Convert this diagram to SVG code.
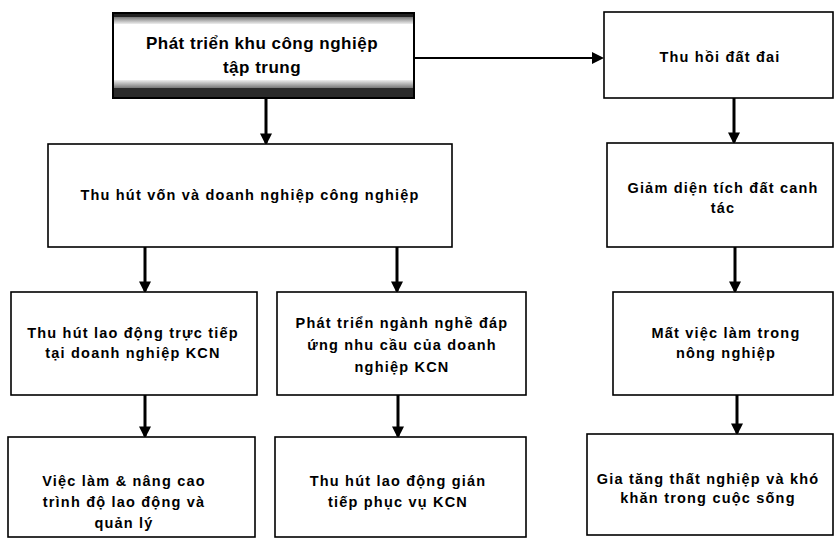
<svg xmlns="http://www.w3.org/2000/svg" width="835" height="539" viewBox="0 0 835 539">
<defs>
<marker id="ah" markerWidth="4" markerHeight="4" refX="3.2" refY="2" orient="auto" markerUnits="strokeWidth">
<path d="M0,0 L4,2 L0,4 Z" fill="#000"/>
</marker>
<marker id="ahs" markerWidth="6" markerHeight="6" refX="5" refY="3" orient="auto" markerUnits="strokeWidth">
<path d="M0,0 L6,3 L0,6 Z" fill="#000"/>
</marker>
<linearGradient id="gtop" x1="0" y1="0" x2="0" y2="1">
<stop offset="0" stop-color="#777"/>
<stop offset="1" stop-color="#eee"/>
</linearGradient>
<linearGradient id="gbot" x1="0" y1="0" x2="0" y2="1">
<stop offset="0" stop-color="#eee"/>
<stop offset="1" stop-color="#777"/>
</linearGradient>
</defs>
<style>
.box{fill:#fff;stroke:#000;stroke-width:1.6}
.t{font-family:"Liberation Sans",Arial,sans-serif;font-weight:bold;font-size:14.5px;letter-spacing:1.2px;text-anchor:middle;fill:#000}
.big{font-size:17px;letter-spacing:0.5px}
.c{stroke:#000;stroke-width:3;fill:none}
.ch{stroke:#000;stroke-width:2;fill:none}
</style>
<rect width="835" height="539" fill="#fff"/>
<g id="connectors">
<line class="ch" x1="414" y1="58" x2="602" y2="58" marker-end="url(#ahs)"/>
<line class="c" x1="266" y1="98" x2="266" y2="143" marker-end="url(#ah)"/>
<line class="c" x1="145" y1="247" x2="145" y2="291" marker-end="url(#ah)"/>
<line class="c" x1="397" y1="247" x2="397" y2="291" marker-end="url(#ah)"/>
<line class="c" x1="145" y1="395" x2="145" y2="436" marker-end="url(#ah)"/>
<line class="c" x1="398" y1="395" x2="398" y2="436" marker-end="url(#ah)"/>
<line class="c" x1="734" y1="98" x2="734" y2="142" marker-end="url(#ah)"/>
<line class="c" x1="735" y1="247" x2="735" y2="291" marker-end="url(#ah)"/>
<line class="c" x1="737" y1="395" x2="737" y2="433" marker-end="url(#ah)"/>
</g>
<g id="n1">
<rect x="113" y="13" width="301" height="85" fill="#fff" stroke="#000" stroke-width="2"/>
<rect x="114" y="14" width="299" height="3" fill="#222"/>
<rect x="114" y="17" width="299" height="7" fill="url(#gtop)"/>
<rect x="114" y="80" width="299" height="8" fill="url(#gbot)"/>
<rect x="114" y="88" width="299" height="9" fill="#2a2a2a"/>
<text class="t big" x="262" y="49">Phát triển khu công nghiệp</text>
<text class="t big" x="262" y="73">tập trung</text>
</g>
<g id="n2">
<rect class="box" x="604" y="12" width="229" height="86"/>
<text class="t" x="720" y="62">Thu hồi đất đai</text>
</g>
<g id="n3">
<rect class="box" x="48" y="144" width="404" height="103"/>
<text class="t" x="250" y="200">Thu hút vốn và doanh nghiệp công nghiệp</text>
</g>
<g id="n4">
<rect class="box" x="607" y="143" width="226" height="104"/>
<text class="t" x="723" y="193">Giảm diện tích đất canh</text>
<text class="t" x="723" y="213">tác</text>
</g>
<g id="n5">
<rect class="box" x="11" y="292" width="246" height="103"/>
<text class="t" x="133" y="338">Thu hút lao động trực tiếp</text>
<text class="t" x="133" y="358">tại doanh nghiệp KCN</text>
</g>
<g id="n6">
<rect class="box" x="277" y="292" width="249" height="103"/>
<text class="t" x="402" y="328">Phát triển ngành nghề đáp</text>
<text class="t" x="402" y="350">ứng nhu cầu của doanh</text>
<text class="t" x="402" y="372">nghiệp KCN</text>
</g>
<g id="n7">
<rect class="box" x="613" y="292" width="220" height="103"/>
<text class="t" x="726" y="338">Mất việc làm trong</text>
<text class="t" x="726" y="358">nông nghiệp</text>
</g>
<g id="n8">
<rect class="box" x="8" y="437" width="247" height="100"/>
<text class="t" x="124" y="486">Việc làm &amp; nâng cao</text>
<text class="t" x="124" y="507">trình độ lao động và</text>
<text class="t" x="124" y="528">quản lý</text>
</g>
<g id="n9">
<rect class="box" x="275" y="437" width="251" height="100"/>
<text class="t" x="398" y="486">Thu hút lao động gián</text>
<text class="t" x="398" y="507">tiếp phục vụ KCN</text>
</g>
<g id="n10">
<rect class="box" x="587" y="434" width="246" height="101"/>
<text class="t" x="708" y="484">Gia tăng thất nghiệp và khó</text>
<text class="t" x="708" y="503">khăn trong cuộc sống</text>
</g>
</svg>
